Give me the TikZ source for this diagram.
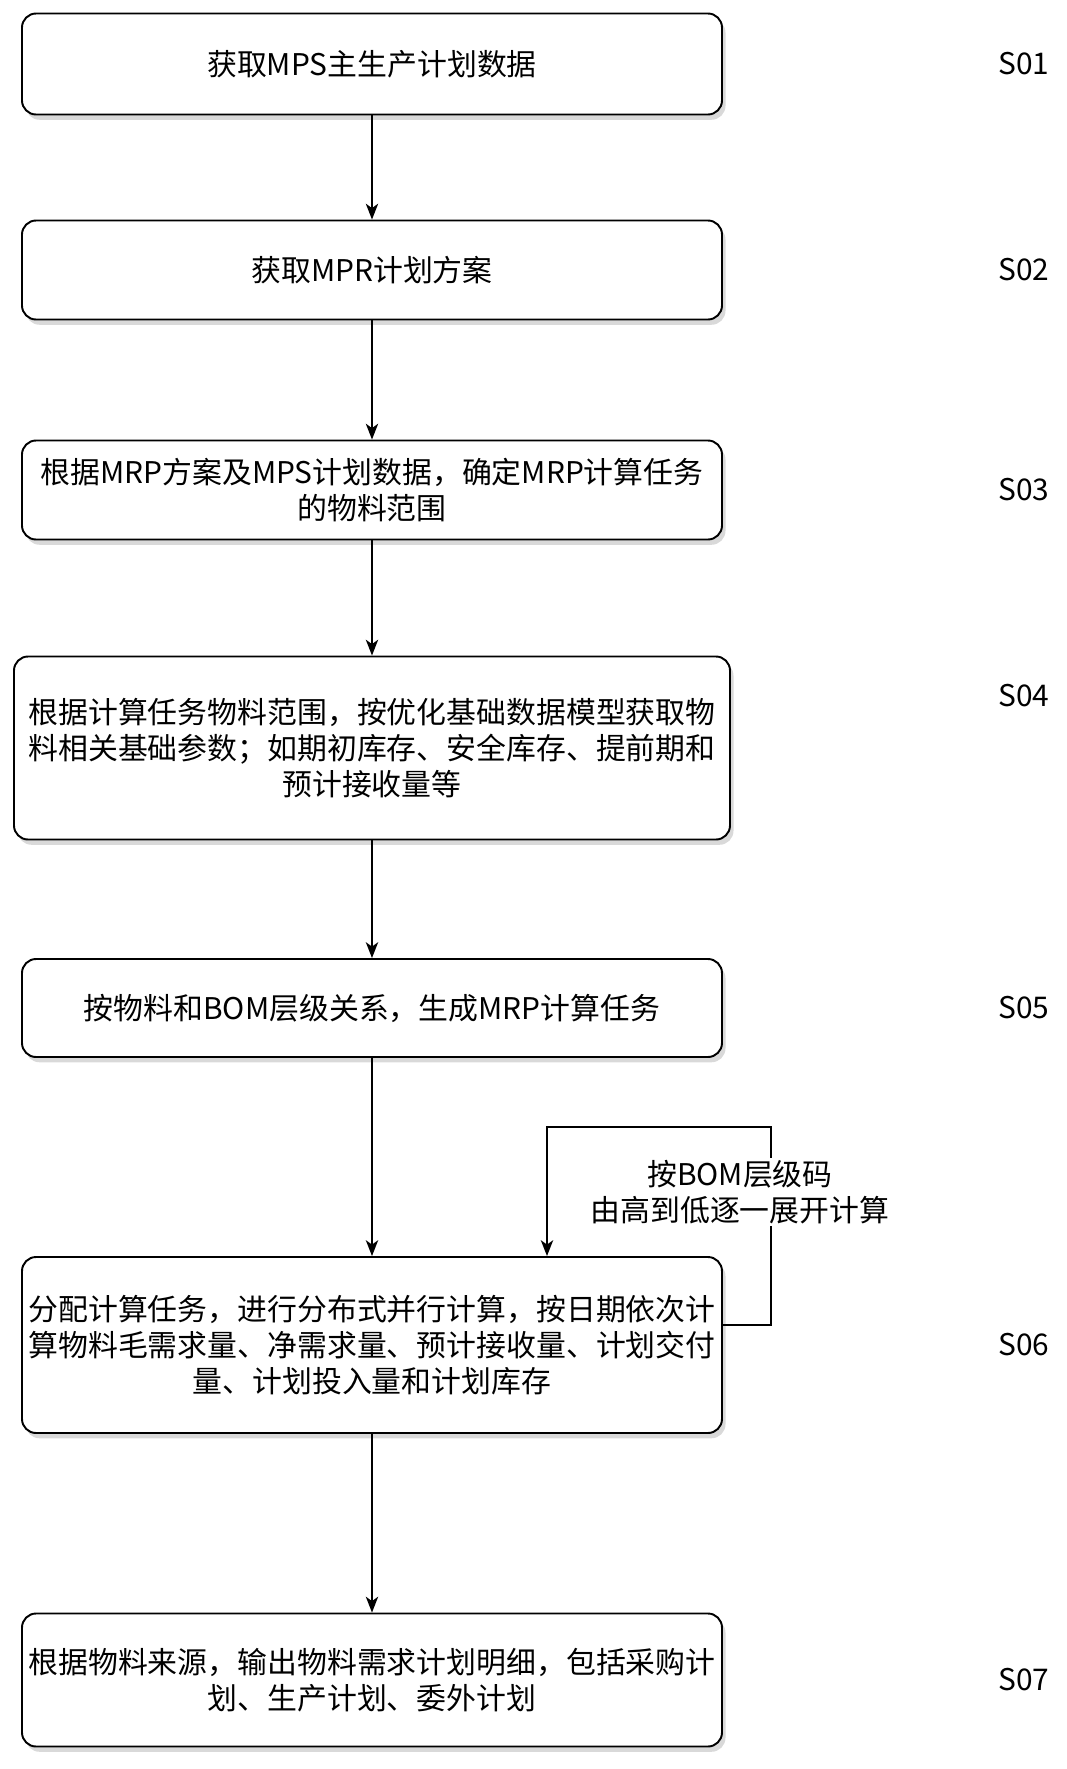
\documentclass[tikz,border=0pt]{standalone}
\usepackage{fontspec}
\setmainfont{Noto Sans CJK SC}
\usepackage{tikz}
\usetikzlibrary{arrows.meta, positioning, shadows}

\begin{document}
\begin{tikzpicture}[node distance=2cm, on grid, auto,
        font=\fontsize{17}{20.5}\selectfont,
        stepbox/.style={draw, line width=1.1pt, rounded corners=8pt, fill=white,
            minimum width=14cm, inner xsep=2pt, align=center,
            drop shadow={shadow xshift=2pt, shadow yshift=-3pt, opacity=0.3}},
        flow/.style={-{Stealth[length=9pt, width=7pt, inset=2.5pt]}, line width=1.1pt}]
        \useasboundingbox (-7.44,1.28) rectangle (13.88,-34.10);

        \node[stepbox, minimum height=2.02cm] (b1) {获取MPS主生产计划数据};
        \node[stepbox, minimum height=1.98cm] (b2) [below=4.12of b1] {获取MPR计划方案};
        \node[stepbox, minimum height=1.98cm] (b3) [below=4.4of b2]
            {根据MRP方案及MPS计划数据，确定MRP计算任务\\的物料范围};
        \node[stepbox, minimum height=3.66cm, minimum width=14.32cm] (b4) [below=5.16of b3]
            {根据计算任务物料范围，按优化基础数据模型获取物\\料相关基础参数；如期初库存、安全库存、提前期和\\预计接收量等};
        \node[stepbox, minimum height=1.96cm] (b5) [below=5.2of b4] {按物料和BOM层级关系，生成MRP计算任务};
        \node[stepbox, minimum height=3.52cm] (b6) [below=6.74of b5]
            {分配计算任务，进行分布式并行计算，按日期依次计\\算物料毛需求量、净需求量、预计接收量、计划交付\\量、计划投入量和计划库存};
        \node[stepbox, minimum height=2.66cm] (b7) [below=6.7of b6]
            {根据物料来源，输出物料需求计划明细，包括采购计\\划、生产计划、委外计划};

        \node (s1) [right=13.04of b1] {S01};
        \node (s2) [right=13.04of b2] {S02};
        \node (s3) [right=13.04of b3] {S03};
        \node (s4) [right=13.04of b4, yshift=1.04cm] {S04};
        \node (s5) [right=13.04of b5] {S05};
        \node (s6) [right=13.04of b6] {S06};
        \node (s7) [right=13.04of b7] {S07};

        \path[flow]
        (b1) edge (b2)
        (b2) edge (b3)
        (b3) edge (b4)
        (b4) edge (b5)
        (b5) edge (b6)
        (b6) edge (b7);

        % loop back over the BOM levels
        \coordinate (turn) at ([xshift=0.96cm, yshift=2.58cm]b6.north east);
        \draw[flow] ([yshift=4mm]b6.east) -| (turn) -| ([xshift=3.5cm]b6.north);
        \node[fill=white, align=center, inner sep=1pt] (note) [above=1.28of b6.north east, xshift=3.4mm, anchor=center]
            {按BOM层级码\\由高到低逐一展开计算};
    \end{tikzpicture}
\end{document}
